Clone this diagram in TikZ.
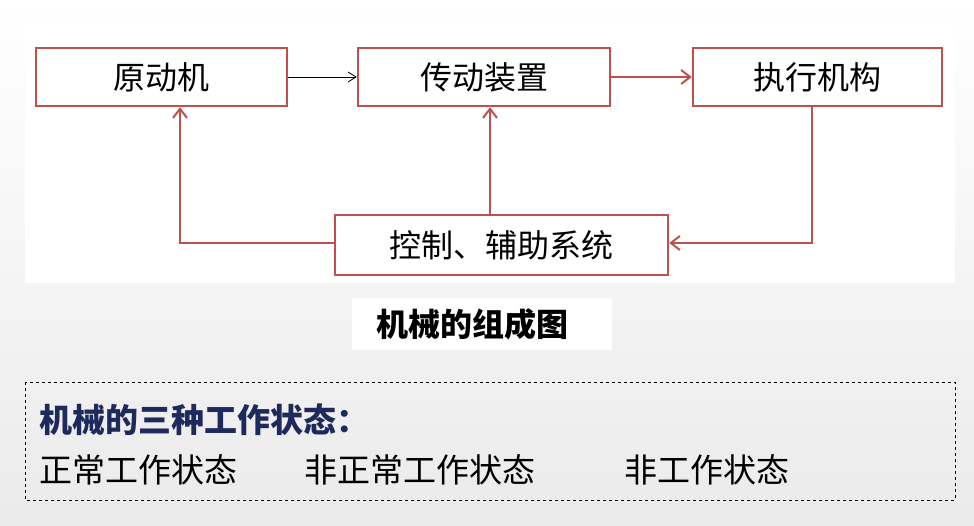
\documentclass[tikz,border=0pt]{standalone}
\usepackage{fontspec}
\setmainfont{Noto Sans CJK SC}
\usetikzlibrary{arrows.meta}
\definecolor{bred}{HTML}{C0504D}
\definecolor{dblue}{HTML}{1F2A5C}
\tikzset{box/.style={draw=bred,line width=2.5pt,fill=white,minimum height=58pt,inner sep=0pt,font=\fontsize{32}{32}\selectfont},
rline/.style={draw=bred,line width=2.5pt},
rarr/.style={rline,-{Straight Barb[length=9pt,width=14pt,line width=2pt]}},
big/.style={font=\fontsize{33}{33}\selectfont},
bigb/.style={font=\fontsize{33}{33}\selectfont\bfseries}}
\begin{document}
\begin{tikzpicture}[x=1pt,y=-1pt]
\shade[top color=white,bottom color=black!8] (0,0) rectangle (974,525);
\useasboundingbox (0,0) rectangle (974,525);
\fill[white] (25,22) rectangle (955,283);
\node[box,minimum width=251pt] (a) at (161.5,77) {原动机};
\node[box,minimum width=252pt] (b) at (484,77) {传动装置};
\node[box,minimum width=249pt] (c) at (817.5,77) {执行机构};
\node[box,minimum width=333pt,minimum height=60pt] (d) at (501.5,245) {控制、辅助系统};
\draw[-{Straight Barb[length=8pt,width=10pt]},line width=0.8pt] (a.east) -- (b.west);
\draw[rarr] (b.east) -- (c.west);
\coordinate (c1) at (812,243);
\coordinate (d1) at (180,243);
\draw[rarr] (c1 |- c.south) -- (c1) -- (d.east |- c1);
\draw[rarr] (d.west |- d1) -- (d1) -- (d1 |- a.south);
\draw[rarr] (490,0 |- d.north) -- (490,0 |- b.south);
\fill[white] (352,298) rectangle (612,350);
\node[font=\fontsize{32}{32}\selectfont\bfseries] (t) at (472,324) {机械的组成图};
\draw[dashed,line width=0.6pt] (25,382) rectangle (955,500);
\node[anchor=west,bigb,text=dblue] (h) at (36,420) {机械的三种工作状态：};
\node[anchor=west,big] (s1) at (36,470) {正常工作状态};
\node[anchor=west,big] (s2) at (301,470) {非正常工作状态};
\node[anchor=west,big] (s3) at (621,470) {非工作状态};
\end{tikzpicture}
\end{document}
